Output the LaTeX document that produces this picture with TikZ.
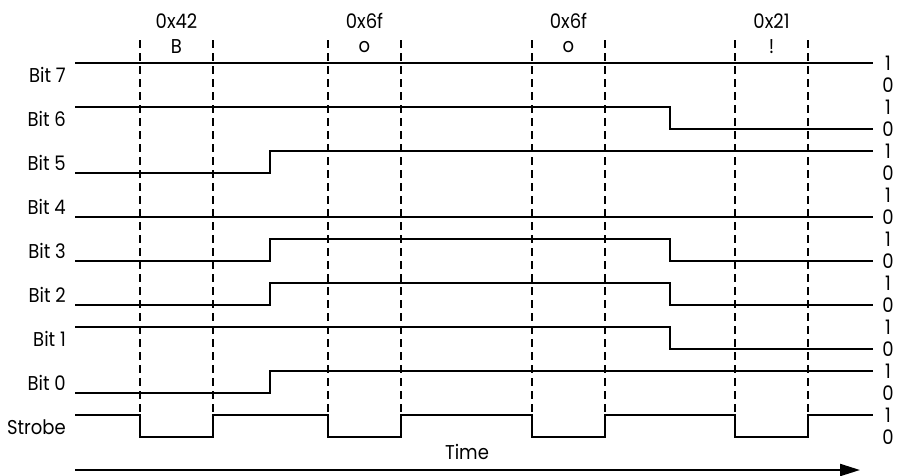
\documentclass[tikz,border=0pt]{standalone}
\usepackage{fontspec}
\setmainfont{Poppins}[FakeStretch=0.9]
\usetikzlibrary{arrows.meta}
\begin{document}
\begin{tikzpicture}[x=1pt,y=-1pt,
  sig/.style={line width=2.2pt,line join=miter},
  guide/.style={line width=2pt,dash pattern=on 8pt off 5pt},
  lbl/.style={font=\fontsize{20}{20}\selectfont,inner sep=0pt},
  timearrow/.style={line width=2.2pt,-{Triangle[length=20pt,width=12pt]}},
]
\useasboundingbox (0,0) rectangle (899,475);
% left labels
\foreach \k/\t in {0/Bit 7,1/Bit 6,2/Bit 5,3/Bit 4,4/Bit 3,5/Bit 2,6/Bit 1,7/Bit 0,8/Strobe}{
  \node[lbl,anchor=east] (L\k) at (66,{63+44*\k+12}) {\t};
  \node[lbl] (one\k) at (888,{63+44*\k}) {1};
  \node[lbl] (zero\k) at (888,{63+44*\k+22}) {0};
}
% dashed guides and top labels
\foreach \a/\b/\h/\c [count=\i] in {140/213/0x42/B,328/401/0x6f/o,532/605/0x6f/o,735/808/0x21/!}{
  \coordinate (ga\i) at (\a,40);
  \coordinate (gb\i) at (\b,40);
  \draw[guide] (ga\i) -- (\a,437);
  \draw[guide] (gb\i) -- (\b,437);
  \node[lbl] (hex\i) at ({(\a+\b)/2},21) {\h};
  \node[lbl] (chr\i) at ({(\a+\b)/2},47) {\c};
}
% signals
\draw[sig] (75,63) -- (873,63);
\draw[sig] (75,107) -- (670,107) -- (670,129) -- (873,129);
\draw[sig] (75,173) -- (270,173) -- (270,151) -- (873,151);
\draw[sig] (75,217) -- (873,217);
\draw[sig] (75,261) -- (270,261) -- (270,239) -- (670,239) -- (670,261) -- (873,261);
\draw[sig] (75,305) -- (270,305) -- (270,283) -- (670,283) -- (670,305) -- (873,305);
\draw[sig] (75,327) -- (670,327) -- (670,349) -- (873,349);
\draw[sig] (75,393) -- (270,393) -- (270,371) -- (873,371);
\draw[sig] (75,415) -- (140,415) -- (140,437) -- (213,437) -- (213,415)
  -- (328,415) -- (328,437) -- (401,437) -- (401,415)
  -- (532,415) -- (532,437) -- (605,437) -- (605,415)
  -- (735,415) -- (735,437) -- (808,437) -- (808,415) -- (873,415);
% time axis
\node[lbl] (time) at (467,452) {Time};
\coordinate (t0) at (75,470);
\coordinate (t1) at (860,470);
\draw[timearrow] (t0) -- (t1);
\end{tikzpicture}
\end{document}
